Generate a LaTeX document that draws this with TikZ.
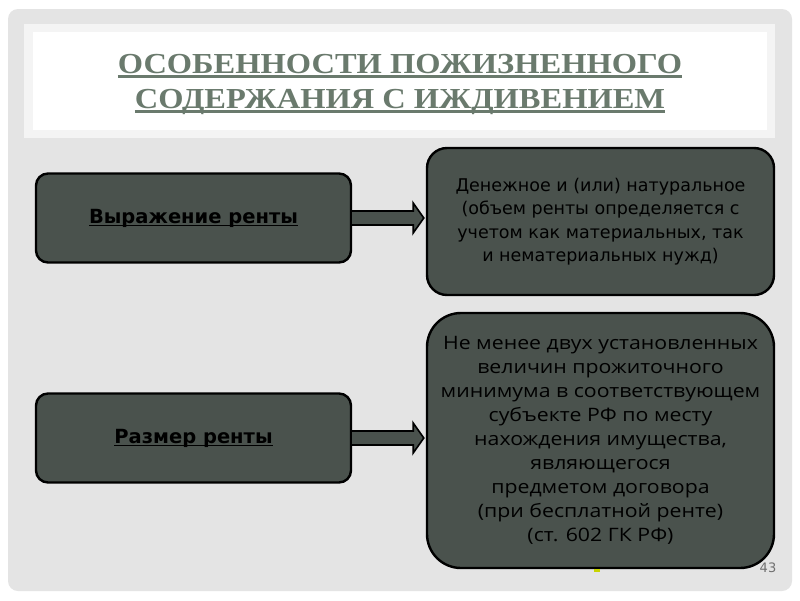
\documentclass[tikz,border=0pt]{standalone}
\usepackage{fontspec}
\setmainfont{Liberation Serif}
\setsansfont{DejaVu Sans}
\newfontfamily\titlefont[FakeStretch=1.12]{Liberation Serif}
\newfontfamily\sizefont[FakeStretch=1.15]{Open Sans}
\usetikzlibrary{arrows.meta, positioning, calc}
\definecolor{cpanel}{HTML}{E4E4E4}
\definecolor{cband}{HTML}{F4F4F4}
\definecolor{ctitle}{HTML}{6A7A6D}
\definecolor{cbox}{HTML}{4A524D}
\definecolor{cnum}{HTML}{707070}
\definecolor{cmark}{HTML}{C8D400}
\tikzset{
  every picture/.style={line width=1pt},
  rentbox/.style={draw=black, fill=cbox, line width=2.4pt, rounded corners=#1, align=center, text=black, inner sep=0pt},
  rentbox/.default=12pt,
  blockarr/.style={draw=black, fill=cbox, line width=1.6pt, line join=miter},
  heading/.style={font=\titlefont\bfseries\fontsize{29}{35}\selectfont, text=ctitle, align=center},
  keytext/.style={font=\sffamily\bfseries\fontsize{19.5}{22}\selectfont, text=black},
  bodytext/.style={font=\sffamily\fontsize{17.5}{23.5}\selectfont, text=black},
}
\newlength\ulwd
\newcommand{\ulline}[1]{\settowidth{\ulwd}{#1}\rlap{\rule[-0.17em]{\ulwd}{0.085em}}#1}

\begin{document}
\begin{tikzpicture}[x=1pt, y=-1pt]
  \useasboundingbox (0,0) rectangle (800,600);
  \fill[white] (0,0) rectangle (800,600);
  \fill[cpanel, rounded corners=10pt] (8,9) rectangle (792,591);
  \fill[cband] (24,24) rectangle (775,138);
  \fill[white] (33,32) rectangle (767,130);
  % title
  \node[heading] (title) at (400,84) {\ulline{ОСОБЕННОСТИ ПОЖИЗНЕННОГО}\\\ulline{СОДЕРЖАНИЯ С ИЖДИВЕНИЕМ}};
  % left boxes
  \node[rentbox, minimum width=315pt, minimum height=89pt, keytext] (expr) at (193.5,218) {\ulline{Выражение ренты}};
  \node[rentbox, minimum width=315pt, minimum height=89pt, keytext] (size) at (193.5,438) {\ulline{Размер ренты}};
  % right boxes
  \node[rentbox=20pt, minimum width=347pt, minimum height=147pt, bodytext] (form) at (600.5,221.5)
    {Денежное и (или) натуральное\\(объем ренты определяется с\\учетом как материальных, так\\и нематериальных нужд)};
  \node[rentbox=34pt, minimum width=347pt, minimum height=255pt, font=\sizefont\fontsize{18.5}{24}\selectfont] (amount) at (600.5,440.5)
    {Не менее двух установленных\\величин прожиточного\\минимума в соответствующем\\субъекте РФ по месту\\нахождения имущества,\\являющегося\\предметом договора\\(при бесплатной ренте)\\(ст. 602 ГК РФ)};
  % block arrows
  \draw[blockarr] ($(expr.east)+(0,-7)$) -- ++(61,0) -- ++(0,-8) -- ($(expr.east -| form.west)+(-2,0)$)
    -- ($(expr.east)+(61,15)$) -- ++(0,-8) -- ($(expr.east)+(0,7)$);
  \draw[blockarr] ($(size.east)+(0,-7)$) -- ++(61,0) -- ++(0,-8) -- ($(size.east -| amount.west)+(-2,0)$)
    -- ($(size.east)+(61,15)$) -- ++(0,-8) -- ($(size.east)+(0,7)$);
  % footer
  \fill[cmark] (594,569) rectangle (600,572);
  \node[text=cnum, font=\sffamily\fontsize{13}{15}\selectfont] (page) at (768,568) {43};
\end{tikzpicture}
\end{document}
